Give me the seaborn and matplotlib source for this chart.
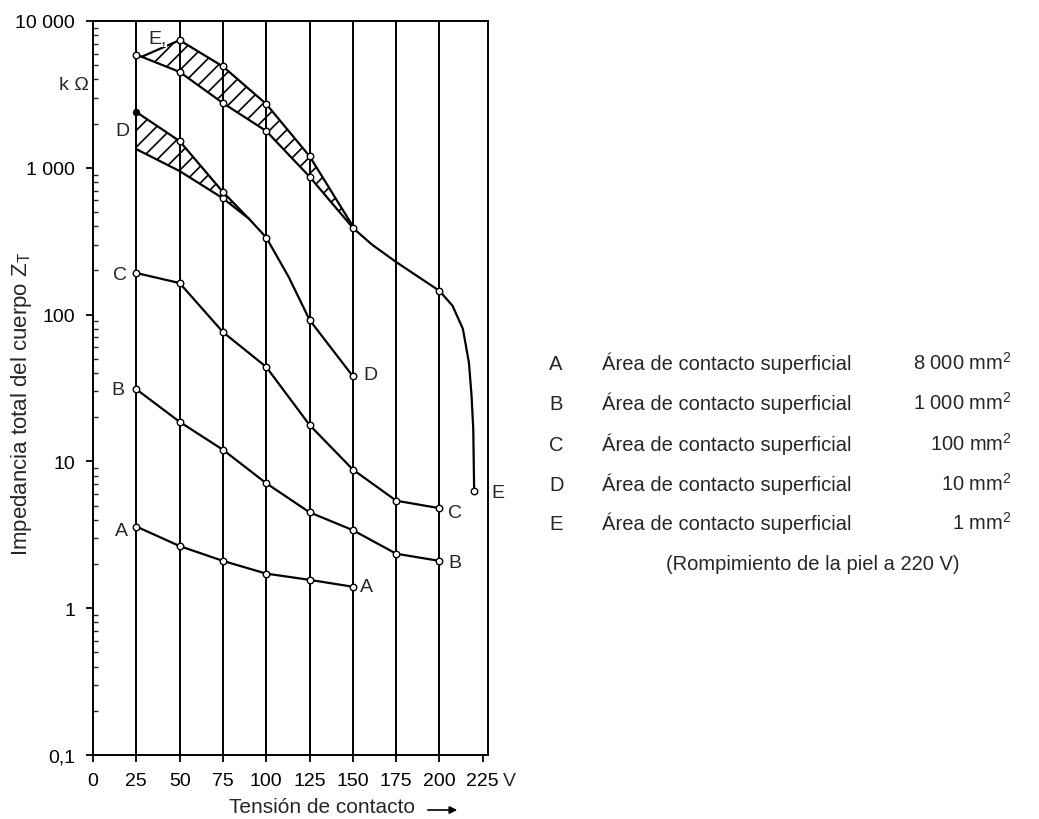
import matplotlib
matplotlib.use("Agg")
import matplotlib.pyplot as plt
import matplotlib.ticker as mticker
import seaborn as sns

# Tensión de contacto (V) vs impedancia total ZT (kOhm)
volt_a = [25, 50, 75, 100, 125, 150]
imp_a = [3.6, 2.65, 2.1, 1.72, 1.56, 1.4]

volt_bc = [25, 50, 75, 100, 125, 150, 175, 200]
imp_b = [31, 18.6, 12, 7.1, 4.5, 3.4, 2.35, 2.1]
imp_c = [192, 164, 76, 44, 17.7, 8.8, 5.4, 4.8]

# D: lower edge of the band continues as the main curve
volt_d = [25, 50, 75, 90, 100, 113, 125, 150]
imp_d = [1340, 950, 620, 450, 335, 180, 92, 38]
volt_d_upper = [25, 50, 75, 90]
imp_d_upper = [2400, 1520, 684, 450]

# E: lower edge of the band continues as the main curve (skin breakdown at 220 V)
volt_e = [25, 50, 75, 100, 125, 150, 161, 175, 200, 207.5, 213.5, 217, 218.5, 219.5, 220]
imp_e = [5900, 4500, 2760, 1780, 870, 390, 300, 228, 145, 115, 80, 47, 28, 16.5, 6.3]
volt_e_upper = [28, 50, 75, 100, 125, 150]
imp_e_upper = [5700, 7400, 4900, 2720, 1200, 400]

# points drawn with small circles
marks_a = [25, 50, 75, 100, 125, 150]
marks_bc = [25, 50, 75, 100, 125, 150, 175, 200]
marks_d = [75, 100, 125, 150]
marks_d_upper = [50, 75]
marks_e = [25, 50, 75, 100, 125, 150, 200, 220]
marks_e_upper = [50, 75, 100, 125]

grid_volts = [25, 50, 75, 100, 125, 150, 175, 200]
x_ticks = [0, 25, 50, 75, 100, 125, 150, 175, 200, 225]
x_tick_labels = ["0", "25", "50", "75", "100", "125", "150", "175", "200", "225"]
y_ticks = [0.1, 1, 10, 100, 1000, 10000]
y_tick_labels = ["0,1", "1", "10", "100", "1 000", "10 000"]

legend_letters = ["A", "B", "C", "D", "E"]
legend_areas = ["8 000", "1 000", "100", "10", "1"]

sns.set_theme(style="white")
plt.rcParams["font.family"] = ["Liberation Sans", "DejaVu Sans"]
plt.rcParams["mathtext.fontset"] = "custom"
plt.rcParams["mathtext.rm"] = "Liberation Sans"
plt.rcParams["mathtext.it"] = "Liberation Sans:italic"
plt.rcParams["hatch.linewidth"] = 1.2
plt.rcParams["hatch.color"] = "black"

FS = 14      # tick labels and curve letters
FS_TXT = 14.5  # legend block
LW = 1.6

fig = plt.figure(figsize=(10.39, 8.2), dpi=100)
ax = fig.add_axes([93 / 1039, 64 / 820, 395 / 1039, 734 / 820])
ax.set_yscale("log")
ax.set_xlim(0, 228)
ax.set_ylim(0.1, 10000)

for v in grid_volts:
    ax.axvline(v, color="black", lw=1.4, zorder=1)

# hatched bands of D and E
ax.fill(volt_d_upper + volt_d[:4][::-1], imp_d_upper + imp_d[:4][::-1],
        facecolor="none", edgecolor="black", hatch="//", lw=0, zorder=2)
ax.fill(volt_e_upper + volt_e[:6][::-1], imp_e_upper + imp_e[:6][::-1],
        facecolor="none", edgecolor="black", hatch="//", lw=0, zorder=2)

curves = [
    (volt_a, imp_a), (volt_bc, imp_b), (volt_bc, imp_c),
    (volt_d, imp_d), (volt_d_upper, imp_d_upper),
    (volt_e, imp_e), (volt_e_upper, imp_e_upper),
]
for xs, ys in curves:
    sns.lineplot(x=xs, y=ys, ax=ax, color="black", lw=LW, sort=False,
                 estimator=None, zorder=3)


def pick(xs, ys, keep):
    return [x for x in xs if x in keep], [y for x, y in zip(xs, ys) if x in keep]


marked = [
    pick(volt_a, imp_a, marks_a), pick(volt_bc, imp_b, marks_bc),
    pick(volt_bc, imp_c, marks_bc), pick(volt_d, imp_d, marks_d),
    pick(volt_d_upper, imp_d_upper, marks_d_upper), pick(volt_e, imp_e, marks_e),
    pick(volt_e_upper, imp_e_upper, marks_e_upper),
]
for xs, ys in marked:
    sns.scatterplot(x=xs, y=ys, ax=ax, s=22, marker="o", facecolor="white",
                    edgecolor="black", linewidth=1.0, zorder=4)
sns.scatterplot(x=volt_d_upper[:1], y=imp_d_upper[:1], ax=ax, s=24, color="black",
                edgecolor="black", zorder=4)

# curve letters
ann = dict(fontsize=FS, ha="center", va="center", textcoords="offset points")
ax.annotate("A", (volt_a[0], imp_a[0]), xytext=(-11, -3), **ann)
ax.annotate("A", (volt_a[-1], imp_a[-1]), xytext=(10, 0), **ann)
ax.annotate("B", (volt_bc[0], imp_b[0]), xytext=(-13, 0), **ann)
ax.annotate("B", (volt_bc[-1], imp_b[-1]), xytext=(11, -1), **ann)
ax.annotate("C", (volt_bc[0], imp_c[0]), xytext=(-12, -1), **ann)
ax.annotate("C", (volt_bc[-1], imp_c[-1]), xytext=(11, -3), **ann)
ax.annotate("D", (volt_d_upper[0], imp_d_upper[0]), xytext=(-10, -13), **ann)
ax.annotate("D", (volt_d[-1], imp_d[-1]), xytext=(13, 1), **ann)
ax.annotate("E,", (volt_e[0], imp_e[0]), xytext=(15, 12), zorder=6,
            bbox=dict(boxstyle="square,pad=0.05", fc="white", ec="none"), **ann)
ax.annotate("E", (volt_e[-1], imp_e[-1]), xytext=(17, -1), **ann)

# axes styling
for sp in ax.spines.values():
    sp.set_visible(True)
    sp.set_color("black")
    sp.set_linewidth(1.4)

ax.set_xticks(x_ticks)
ax.set_xticklabels(x_tick_labels)
ax.yaxis.set_major_locator(mticker.FixedLocator(y_ticks))
ax.yaxis.set_major_formatter(mticker.FixedFormatter(y_tick_labels))
ax.yaxis.set_minor_locator(mticker.LogLocator(base=10, subs=range(2, 10), numticks=20))
ax.yaxis.set_minor_formatter(mticker.NullFormatter())
ax.tick_params(axis="x", which="major", direction="out", length=5, width=1.3,
               labelsize=FS, pad=7, bottom=True, colors="black")
ax.tick_params(axis="y", which="major", direction="out", length=5, width=1.3,
               labelsize=FS, pad=8, left=True, colors="black")
ax.tick_params(axis="y", which="minor", direction="in", length=3.5, width=1.0, left=True)

fig.text(503 / 1039, 1 - 782 / 820, "V", fontsize=FS, ha="left", va="center")
fig.text(89 / 1039, 1 - 86 / 820, "k Ω", fontsize=FS, ha="right", va="center")

ax.set_ylabel("Impedancia total del cuerpo Z$_{\\mathrm{T}}$", fontsize=16)
ax.yaxis.set_label_coords(-0.18, 0.48)
ax.yaxis.label.set_va("center")
ax.set_xlabel("Tensión de contacto", fontsize=15)
ax.xaxis.set_label_coords(0.58, -0.0695)
ax.xaxis.label.set_va("center")
ax.annotate("", xy=(460 / 1039, 1 - 811 / 820), xytext=(425 / 1039, 1 - 811 / 820),
            xycoords="figure fraction", textcoords="figure fraction",
            arrowprops=dict(arrowstyle="-|>", color="black", lw=1.2, mutation_scale=11))

# legend block on the right (baselines)
row_y = [370, 410, 451, 491, 530]
for letter, area, py in zip(legend_letters, legend_areas, row_y):
    yf = 1 - py / 820
    fig.text(549 / 1039, yf, letter, fontsize=FS_TXT, ha="left", va="baseline")
    fig.text(602 / 1039, yf, "Área de contacto superficial", fontsize=FS_TXT,
             ha="left", va="baseline")
    fig.text(1012 / 1039, yf, area + " mm$^{\\mathrm{2}}$", fontsize=FS_TXT,
             ha="right", va="baseline")
fig.text(813 / 1039, 1 - 570 / 820, "(Rompimiento de la piel a 220 V)", fontsize=FS_TXT,
         ha="center", va="baseline")

plt.savefig("out.png", dpi=100)
